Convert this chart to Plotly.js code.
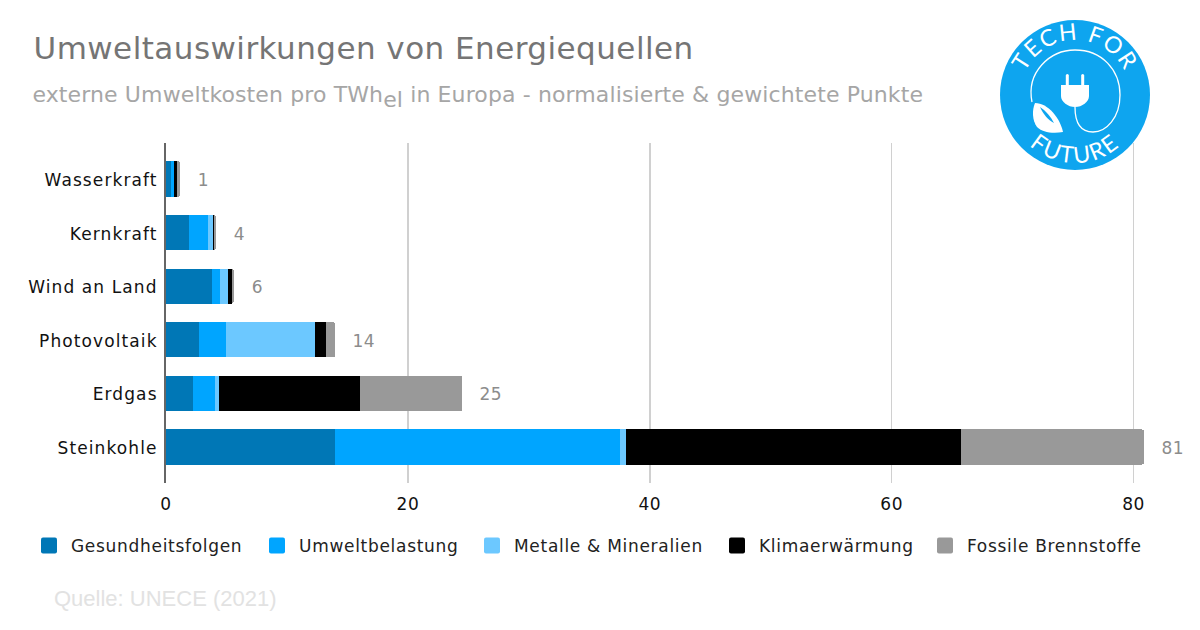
<!DOCTYPE html>
<html lang="de"><head><meta charset="utf-8">
<script src="https://cdn.plot.ly/plotly-3.0.1.min.js"></script>
<style>html,body{margin:0;padding:0;background:#fff;width:1200px;height:630px;overflow:hidden}#c{position:absolute;left:0;top:0;width:1200px;height:630px}#logo{position:absolute;left:990px;top:10px;width:170px;height:170px}
.ytick text{letter-spacing:1.1px}
.xtick text{letter-spacing:.6px}
.legendtext{letter-spacing:.7px}
.annotation[data-index="0"] text,.annotation[data-index="1"] text,.annotation[data-index="2"] text,.annotation[data-index="3"] text,.annotation[data-index="4"] text,.annotation[data-index="5"] text{letter-spacing:.5px}
.annotation[data-index="6"] text{letter-spacing:.46px}
.annotation[data-index="7"] text{letter-spacing:.12px}
</style>
</head><body>
<div id="c"></div>
<svg id="logo" viewBox="0 0 170 170" xmlns="http://www.w3.org/2000/svg">
<defs>
<path id="arcTop" d="M 30 85 A 55 55 0 0 1 140 85"/>
<path id="arcBot" d="M 17 85 A 68 68 0 0 0 153 85"/>
</defs>
<circle cx="85" cy="85" r="75" fill="#0ea5ef"/>
<text font-family="Lato, 'Noto Sans', sans-serif" font-size="23" fill="#fff" letter-spacing="1.8" text-anchor="middle"><textPath href="#arcTop" startOffset="50%">TECH FOR</textPath></text>
<text font-family="Lato, 'Noto Sans', sans-serif" font-size="23" fill="#fff" letter-spacing="2" text-anchor="middle"><textPath href="#arcBot" startOffset="50%">FUTURE</textPath></text>
<path d="M 42 92 C 36 62 60 40 85 40 C 112 40 130 60 130 85 C 130 108 116 122 103 122 C 92 122 85 115 85 97" fill="none" stroke="#fff" stroke-width="1.3"/>
<path d="M 71 75 H 99 V 86 C 99 92 92 97 85 97 C 78 97 71 92 71 86 Z" fill="#fff"/>
<rect x="75.8" y="64" width="3" height="12" rx="1.5" fill="#fff"/><rect x="91.2" y="64" width="3" height="12" rx="1.5" fill="#fff"/>
<path d="M 45 93 C 58 93 70 108 73 122 C 62 124 52 122 47 117 C 42 110 42 100 45 93 Z" fill="#fff"/>
<path d="M 50 97 C 56 101 61 107 64 113 C 58 110 53 104 50 97 Z" fill="#0ea5ef"/>
</svg>
<script>
var categories=["Wasserkraft","Kernkraft","Wind an Land","Photovoltaik","Erdgas","Steinkohle"];
var gesundheitsfolgen=[0.45,1.93,3.83,2.75,2.27,14.0];
var umweltbelastung=[0.22,1.57,0.66,2.2,1.8,23.55];
var metalle=[0.02,0.36,0.6,7.33,0.3,0.5];
var klima=[0.25,0.1,0.39,0.96,11.7,27.7];
var fossile=[0.25,0.16,0.11,0.74,8.43,15.1];
var totals=[1.16,4.1,5.6,13.98,24.5,80.85];
var totalLabels=["1","4","6","14","25","81"];
var xTicks=[0,20,40,60,80];
var seriesNames=["Gesundheitsfolgen","Umweltbelastung","Metalle & Mineralien","Klimaerwärmung","Fossile Brennstoffe"];
var seriesColors=["#0077b6","#00a5ff","#6cc8ff","#000000","#999999"];
var seriesValues=[gesundheitsfolgen,umweltbelastung,metalle,klima,fossile];
var legendStarts=[41,269,484,729,937];
var F="'DejaVu Sans', sans-serif";
var traces=seriesValues.map(function(v,i){return {type:"bar",orientation:"h",name:seriesNames[i],y:categories,x:v,marker:{color:seriesColors[i],line:{width:0}},hoverinfo:"x+name"};});
var ann=categories.map(function(c,i){return {x:totals[i],y:c,xref:"x",yref:"y",text:totalLabels[i],showarrow:false,xanchor:"left",xshift:16,yshift:-1,font:{family:F,size:17,color:"#8c8c8c"}};});
function paper(t,xp,yp,size,col,fam){return {xref:"paper",yref:"paper",x:(xp-165.5)/1016.4,y:(483-yp)/340,xanchor:"left",yanchor:"middle",showarrow:false,text:t,font:{family:fam||F,size:size,color:col}};}
ann.push(paper("Umweltauswirkungen von Energiequellen",39,48,31,"#757575"));
ann.push(paper("externe Umweltkosten pro TWh<sub><span style='font-size:22px'>el</span></sub> in Europa - normalisierte &amp; gewichtete Punkte",34,97,22,"#a6a6a6"));
ann.push(paper("Quelle: UNECE (2021)",51,598,22,"#e2e2e2","'Liberation Sans', sans-serif"));
var layout={width:1200,height:630,paper_bgcolor:"#fff",plot_bgcolor:"#fff",barmode:"stack",bargap:0.345,barcornerradius:2,
 margin:{l:165.5,r:18.1,t:143,b:147,pad:0},
 xaxis:{range:[0,84],tickvals:xTicks,ticktext:xTicks.map(String),showgrid:true,gridcolor:"#d0d0d0",gridwidth:1.5,zeroline:false,showline:false,ticks:"",ticklabelstandoff:9,tickfont:{family:F,size:17,color:"#111"},automargin:false},
 yaxis:{type:"category",categoryorder:"array",categoryarray:categories,range:[5.672,-0.672],showline:true,linecolor:"#666",linewidth:2,showgrid:false,zeroline:false,ticks:"",ticklabelstandoff:3,tickfont:{family:F,size:17,color:"#111"},automargin:false},
 showlegend:true,
 legend:{orientation:"h",x:(24-165.5)/1016.4,y:(483-528)/340,xanchor:"left",yanchor:"top",font:{family:F,size:17,color:"#222"},traceorder:"normal",bgcolor:"rgba(0,0,0,0)"},
 annotations:ann};
Plotly.newPlot("c",traces,layout,{displayModeBar:false,staticPlot:true}).then(function(gd){
 var root=document.querySelector(".legend");
 root.removeAttribute("clip-path");
 root.querySelectorAll("[clip-path]").forEach(function(e){e.removeAttribute("clip-path");});
 root.querySelectorAll(".traces").forEach(function(it,i){
  var m=(it.getAttribute("transform")||"").match(/translate\(([-\d.]+)[ ,]*([-\d.]*)/);
  var yy=m?m[2]||0:0, curItemX=m?parseFloat(m[1]):0;
  var sw=it.querySelector(".legendpoints path");
  var cur=sw.getBoundingClientRect();
  var cx=cur.left+cur.width/2;
  it.setAttribute("transform","translate("+(curItemX+legendStarts[i]+8-cx)+","+yy+")");
  sw.setAttribute("d","M-6,-8H6A2,2 0 0 1 8,-6V6A2,2 0 0 1 6,8H-6A2,2 0 0 1 -8,6V-6A2,2 0 0 1 -6,-8Z");
  var t=it.querySelector(".legendtext");
  t.setAttribute("x",parseFloat(t.getAttribute("x"))+2);
 });
 document.querySelectorAll(".ytick text").forEach(function(t){t.setAttribute("y",parseFloat(t.getAttribute("y"))+1);});
});
</script>
</body></html>
